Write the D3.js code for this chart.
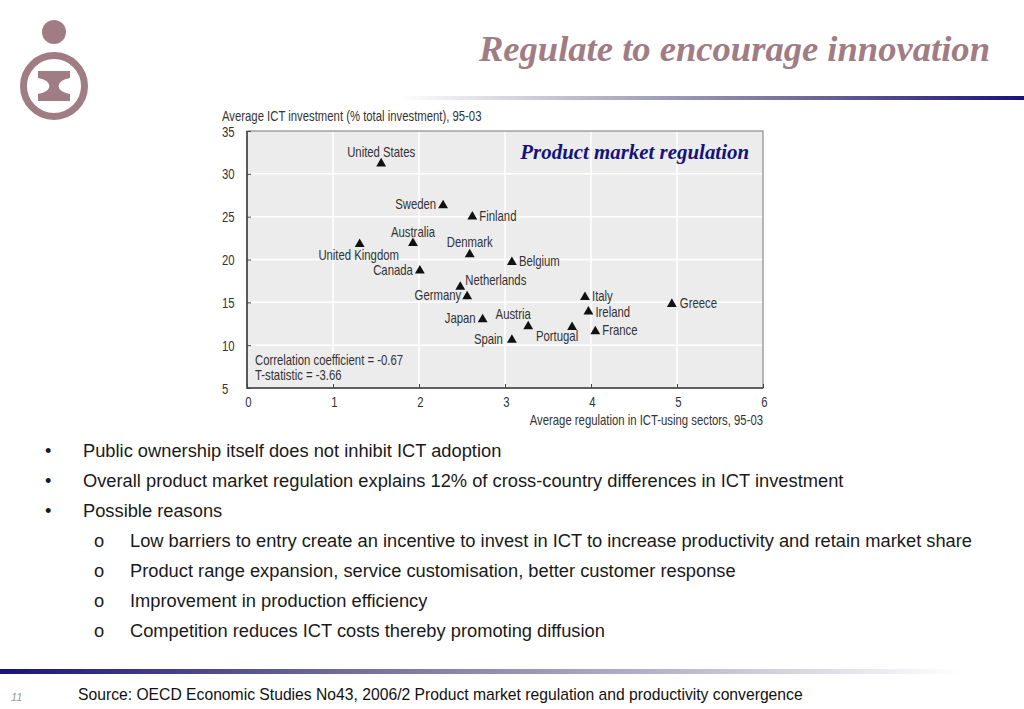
<!DOCTYPE html>
<html lang="en">
<head>
<meta charset="utf-8">
<title>Regulate to encourage innovation</title>
<script src="https://d3js.org/d3.v7.min.js"></script>
<style>
  body { margin: 0; background: #fff; }
  svg { display: block; }
</style>
</head>
<body>
<svg width="1024" height="709"></svg>
<script>
// chart data
var countries = ["United States", "Sweden", "Finland", "Australia", "United Kingdom", "Denmark",
                 "Canada", "Belgium", "Netherlands", "Germany", "Japan", "Austria", "Spain",
                 "Portugal", "Italy", "Ireland", "France", "Greece"];
var regulation = [1.56, 2.28, 2.62, 1.93, 1.31, 2.59, 2.01, 3.08, 2.48, 2.56, 2.74, 3.27, 3.08,
                  3.78, 3.93, 3.97, 4.05, 4.94];
var ictShare = [31.2, 26.3, 25.0, 21.9, 21.8, 20.6, 18.7, 19.7, 16.8, 15.7, 13.0, 12.2, 10.6,
                12.1, 15.6, 13.9, 11.6, 14.8];
var xTicks = [0, 1, 2, 3, 4, 5, 6];
var yTicks = [5, 10, 15, 20, 25, 30, 35];
var bullets = ["Public ownership itself does not inhibit ICT adoption",
               "Overall product market regulation explains 12% of cross-country differences in ICT investment",
               "Possible reasons"];
var subBullets = ["Low barriers to entry create an incentive to invest in ICT to increase productivity and retain market share",
                  "Product range expansion, service customisation, better customer response",
                  "Improvement in production efficiency",
                  "Competition reduces ICT costs thereby promoting diffusion"];

// label placement per country: [dx, dy, anchor]
var labelPos = {
  "United States": [0, -7, "middle"], "Sweden": [-7, 3, "end"], "Finland": [7, 4, "start"],
  "Australia": [0, -6, "middle"], "United Kingdom": [-1, 16, "middle"], "Denmark": [0, -7, "middle"],
  "Canada": [-7, 4, "end"], "Belgium": [7, 4, "start"], "Netherlands": [5, -2, "start"],
  "Germany": [-6, 4, "end"], "Japan": [-7, 4, "end"], "Austria": [-15, -7, "middle"],
  "Spain": [-9, 4, "end"], "Portugal": [-15, 14, "middle"], "Italy": [7, 4, "start"],
  "Ireland": [7, 5, "start"], "France": [7, 4, "start"], "Greece": [8, 4, "start"]
};

var svg = d3.select("svg");
var defs = svg.append("defs");
var mauve = "#a07d85";
var NARROW = 0.81;

// place a text at (px,py) squeezed horizontally like a narrow font
function narrowText(sel, px, py) {
  sel.attr("x", 0).attr("y", 0)
    .attr("transform", "translate(" + px + "," + py + ") scale(" + NARROW + ",1)");
  return sel;
}

// header rule gradient
var gTop = defs.append("linearGradient").attr("id", "gTop");
gTop.append("stop").attr("offset", "0%").attr("stop-color", "#ffffff");
gTop.append("stop").attr("offset", "30%").attr("stop-color", "#b9b7c9");
gTop.append("stop").attr("offset", "65%").attr("stop-color", "#6f6a9a");
gTop.append("stop").attr("offset", "100%").attr("stop-color", "#18137a");
svg.append("rect").attr("x", 400).attr("y", 96).attr("width", 624).attr("height", 4).attr("fill", "url(#gTop)");

var gBot = defs.append("linearGradient").attr("id", "gBot");
gBot.append("stop").attr("offset", "0%").attr("stop-color", "#18137a");
gBot.append("stop").attr("offset", "35%").attr("stop-color", "#6f6a9a");
gBot.append("stop").attr("offset", "70%").attr("stop-color", "#b9b7c9");
gBot.append("stop").attr("offset", "100%").attr("stop-color", "#ffffff");
svg.append("rect").attr("x", 0).attr("y", 669).attr("width", 960).attr("height", 5).attr("fill", "url(#gBot)");

// logo
var logo = svg.append("g");
logo.append("circle").attr("cx", 54).attr("cy", 32).attr("r", 12).attr("fill", mauve);
logo.append("circle").attr("cx", 54).attr("cy", 86).attr("r", 30.5).attr("fill", "none")
  .attr("stroke", mauve).attr("stroke-width", 7);
logo.append("path").attr("fill", mauve)
  .attr("d", "M38,71 H70 V78 Q59,80 58.5,86 Q59,92 70,94 V101 H38 V94 Q49,92 49.5,86 Q49,80 38,78 Z");

// title
svg.append("text").attr("x", 990).attr("y", 61).attr("text-anchor", "end")
  .style("font-family", "'Liberation Serif', 'Times New Roman', serif")
  .style("font-weight", "bold").style("font-style", "italic")
  .style("font-size", "36.6px").attr("fill", mauve)
  .text("Regulate to encourage innovation");

// chart
var chartFont = "'Liberation Sans', Arial, sans-serif";
var fs = "14px";
var x = d3.scaleLinear().domain([0, 6]).range([247, 763]);
var y = d3.scaleLinear().domain([5, 35]).range([388, 131]);

var chart = svg.append("g").style("font-family", chartFont).style("font-size", fs).attr("fill", "#333");

chart.append("rect").attr("x", x(0)).attr("y", y(35)).attr("width", x(6) - x(0)).attr("height", y(5) - y(35))
  .attr("fill", "#ececec");

// grid
chart.selectAll(".vgrid").data(xTicks.slice(1, -1)).enter().append("line")
  .attr("x1", d => x(d)).attr("x2", d => x(d)).attr("y1", y(35)).attr("y2", y(5))
  .attr("stroke", "#fff").attr("stroke-width", 1.5);
chart.selectAll(".hgrid").data(yTicks.slice(1, -1)).enter().append("line")
  .attr("x1", x(0)).attr("x2", x(6)).attr("y1", d => y(d)).attr("y2", d => y(d))
  .attr("stroke", "#fff").attr("stroke-width", 1.5);

// frame
chart.append("rect").attr("x", x(0)).attr("y", y(35)).attr("width", x(6) - x(0)).attr("height", y(5) - y(35))
  .attr("fill", "none").attr("stroke", "#777").attr("stroke-width", 1);
chart.append("path").attr("d", "M" + x(0) + "," + y(35) + "V" + y(5) + "H" + x(6))
  .attr("fill", "none").attr("stroke", "#444").attr("stroke-width", 1.6);

// axes
var yAxis = chart.append("g").attr("transform", "translate(" + x(0) + ",0)")
  .call(d3.axisLeft(y).tickValues(yTicks).tickSize(-4).tickPadding(0));
yAxis.select(".domain").remove();
yAxis.selectAll(".tick line").attr("stroke", "#444");
yAxis.selectAll(".tick text").attr("text-anchor", "start").attr("dy", null)
  .style("font-family", chartFont).style("font-size", fs).attr("fill", "#333")
  .each(function () { narrowText(d3.select(this), -25, 5); });

var xAxis = chart.append("g").attr("transform", "translate(0," + y(5) + ")")
  .call(d3.axisBottom(x).tickValues(xTicks).tickFormat(d3.format("d")).tickSize(-4));
xAxis.select(".domain").remove();
xAxis.selectAll(".tick line").attr("stroke", "#444");
xAxis.selectAll(".tick text").attr("dy", null)
  .style("font-family", chartFont).style("font-size", fs).attr("fill", "#333")
  .each(function () { narrowText(d3.select(this), 1, 19); });

narrowText(chart.append("text"), 222, 121).text("Average ICT investment (% total investment), 95-03");
narrowText(chart.append("text"), x(6), 424.5).attr("text-anchor", "end")
  .text("Average regulation in ICT-using sectors, 95-03");
narrowText(chart.append("text"), 255, 365).text("Correlation coefficient = -0.67");
narrowText(chart.append("text"), 255, 380).text("T-statistic = -3.66");

chart.append("text").attr("x", 749).attr("y", 159).attr("text-anchor", "end")
  .style("font-family", "'Liberation Serif', 'Times New Roman', serif")
  .style("font-weight", "bold").style("font-style", "italic").style("font-size", "20.9px")
  .attr("fill", "#14147a").text("Product market regulation");

// points
var pts = countries.map((c, i) => ({ name: c, rx: regulation[i], ict: ictShare[i] }));
var tri = d3.symbol().type(d3.symbolTriangle).size(42);
var pg = chart.selectAll(".pt").data(pts).enter().append("g")
  .attr("transform", d => "translate(" + x(d.rx) + "," + y(d.ict) + ")");
pg.append("path").attr("d", tri).attr("fill", "#111");
pg.append("text")
  .attr("text-anchor", d => labelPos[d.name][2])
  .each(function (d) { narrowText(d3.select(this), labelPos[d.name][0], labelPos[d.name][1]); })
  .text(d => d.name);

// bullet text
var body = svg.append("g").style("font-family", "'Liberation Sans', Arial, sans-serif")
  .style("font-size", "18.3px").attr("fill", "#1a1a1a");
bullets.forEach(function (t, i) {
  body.append("text").attr("x", 45).attr("y", 457 + i * 30).text("•");
  body.append("text").attr("x", 83).attr("y", 457 + i * 30).text(t);
});
subBullets.forEach(function (t, i) {
  body.append("text").attr("x", 94).attr("y", 547 + i * 30).text("o");
  body.append("text").attr("x", 130).attr("y", 547 + i * 30).text(t);
});

// footer
svg.append("text").attr("x", 78).attr("y", 700)
  .style("font-family", "'Liberation Sans', Arial, sans-serif").style("font-size", "15.7px").attr("fill", "#111")
  .text("Source: OECD Economic Studies No43, 2006/2 Product market regulation and productivity convergence");
svg.append("text").attr("x", 11).attr("y", 701)
  .style("font-family", "'Liberation Sans', Arial, sans-serif").style("font-style", "italic")
  .style("font-size", "11px").attr("fill", "#999").text("11");
</script>
</body>
</html>
